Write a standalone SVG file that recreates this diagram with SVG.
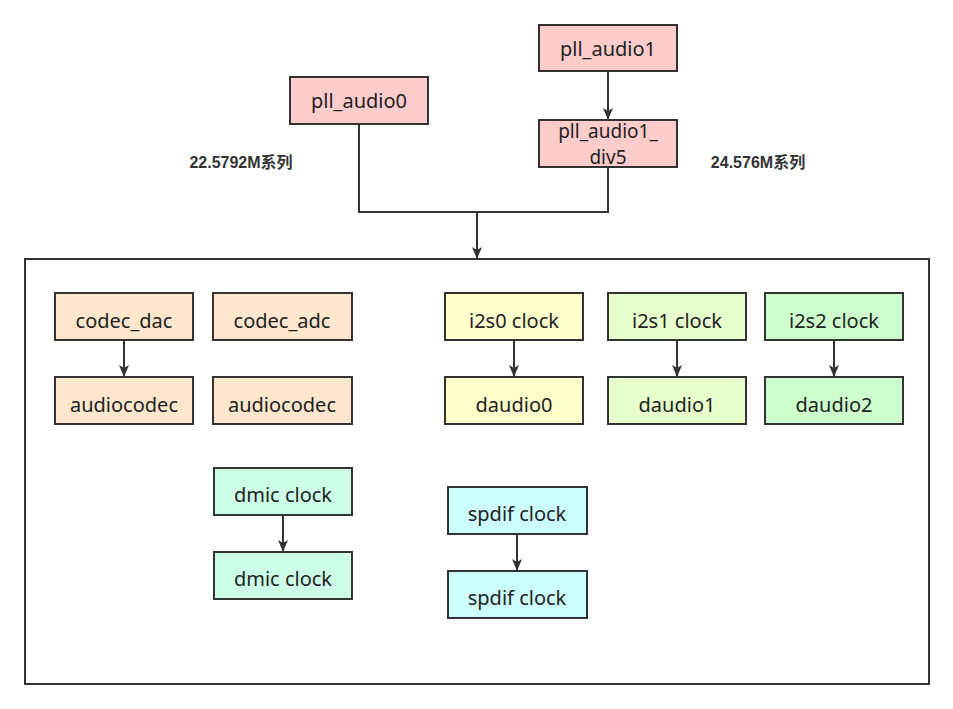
<svg xmlns="http://www.w3.org/2000/svg" width="953" height="709" viewBox="0 0 953 709">
<defs>
<marker id="arr" viewBox="0 0 12 10" refX="11" refY="5" markerWidth="12" markerHeight="10" markerUnits="userSpaceOnUse" orient="auto">
<path d="M0,0 L12,5 L0,10 L3,5 z" fill="#333333"/>
</marker>
<style>
.box{stroke:#333333;stroke-width:2}
.t{font-family:"Noto Sans","Open Sans","Liberation Sans",sans-serif;font-size:20px;fill:#222222;text-anchor:middle;dominant-baseline:central}
.t2{font-size:19px}
.lbl{font-family:"Liberation Sans","Noto Sans CJK SC",sans-serif;font-size:16px;font-weight:bold;fill:#333333;text-anchor:middle;dominant-baseline:central}
.c{fill:none;stroke:#333333;stroke-width:2}
.pll{fill:#FFCCCC}.cod{fill:#FFE6CC}.y{fill:#FFFFCC}.g1{fill:#E6FFCC}.g2{fill:#CCFFCC}.dm{fill:#CCFFE6}.sp{fill:#CCFFFF}
</style>
</defs>
<rect width="953" height="709" fill="#ffffff"/>
<g id="container"><rect x="25" y="259" width="904" height="425" fill="none" stroke="#333333" stroke-width="2"/></g>
<g id="connectors">
<path class="c" d="M608,72 V119" marker-end="url(#arr)"/>
<path class="c" d="M359,124 V212 H608 V167"/>
<path class="c" d="M477,212 V258" marker-end="url(#arr)"/>
<path class="c" d="M124,341 V376" marker-end="url(#arr)"/>
<path class="c" d="M514,341 V376" marker-end="url(#arr)"/>
<path class="c" d="M677,341 V376" marker-end="url(#arr)"/>
<path class="c" d="M834,341 V376" marker-end="url(#arr)"/>
<path class="c" d="M283,516 V551" marker-end="url(#arr)"/>
<path class="c" d="M517,535 V570" marker-end="url(#arr)"/>
</g>
<g id="pll_audio1"><rect class="box pll" x="539" y="25" width="138" height="46"/><text class="t" x="608" y="48">pll_audio1</text></g>
<g id="pll_audio0"><rect class="box pll" x="290" y="77" width="138" height="47"/><text class="t" x="359" y="100">pll_audio0</text></g>
<g id="pll_audio1_div5"><rect class="box pll" x="539" y="120" width="138" height="47"/><text class="t t2" x="608" y="131">pll_audio1_</text><text class="t t2" x="608" y="157">div5</text></g>
<g id="label0"><text class="lbl" x="241" y="162">22.5792M系列</text></g>
<g id="label1"><text class="lbl" x="758" y="162">24.576M系列</text></g>
<g id="codec_dac"><rect class="box cod" x="55" y="293" width="138" height="47"/><text class="t" x="124" y="320">codec_dac</text></g>
<g id="audiocodec0"><rect class="box cod" x="55" y="377" width="138" height="47"/><text class="t" x="124" y="404">audiocodec</text></g>
<g id="codec_adc"><rect class="box cod" x="213" y="293" width="139" height="47"/><text class="t" x="282" y="320">codec_adc</text></g>
<g id="audiocodec1"><rect class="box cod" x="213" y="377" width="139" height="47"/><text class="t" x="282" y="404">audiocodec</text></g>
<g id="i2s0"><rect class="box y" x="445" y="293" width="138" height="47"/><text class="t" x="514" y="320">i2s0 clock</text></g>
<g id="daudio0"><rect class="box y" x="445" y="377" width="138" height="47"/><text class="t" x="514" y="404">daudio0</text></g>
<g id="i2s1"><rect class="box g1" x="608" y="293" width="138" height="47"/><text class="t" x="677" y="320">i2s1 clock</text></g>
<g id="daudio1"><rect class="box g1" x="608" y="377" width="138" height="47"/><text class="t" x="677" y="404">daudio1</text></g>
<g id="i2s2"><rect class="box g2" x="765" y="293" width="138" height="47"/><text class="t" x="834" y="320">i2s2 clock</text></g>
<g id="daudio2"><rect class="box g2" x="765" y="377" width="138" height="47"/><text class="t" x="834" y="404">daudio2</text></g>
<g id="dmic0"><rect class="box dm" x="214" y="468" width="138" height="47"/><text class="t" x="283" y="494">dmic clock</text></g>
<g id="dmic1"><rect class="box dm" x="214" y="552" width="138" height="47"/><text class="t" x="283" y="578">dmic clock</text></g>
<g id="spdif0"><rect class="box sp" x="448" y="487" width="139" height="47"/><text class="t" x="517" y="513">spdif clock</text></g>
<g id="spdif1"><rect class="box sp" x="448" y="571" width="139" height="47"/><text class="t" x="517" y="597">spdif clock</text></g>
</svg>
